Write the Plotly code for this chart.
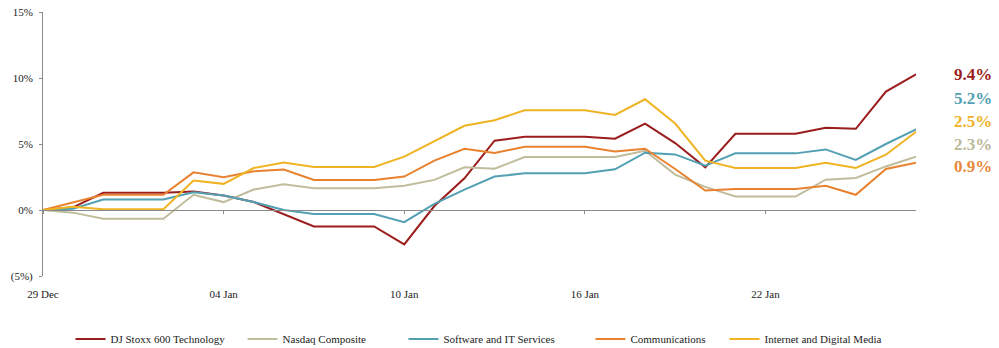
import plotly.graph_objects as go
import pandas as pd

dates = pd.date_range("2014-12-29", "2015-01-27", freq="D")

dj_stoxx = [0, 0.2, 1.3, 1.3, 1.3, 1.4, 1.1, 0.6, -0.35, -1.25, -1.25, -1.25, -2.6, 0.3, 2.4,
            5.25, 5.55, 5.55, 5.55, 5.4, 6.55, 5.07, 3.23, 5.77, 5.77, 5.77, 6.23, 6.15, 8.97, 10.28]
nasdaq = [0, -0.2, -0.67, -0.67, -0.67, 1.15, 0.6, 1.55, 1.95, 1.65, 1.65, 1.65, 1.83, 2.28, 3.23,
          3.13, 4.01, 4.01, 4.01, 4.01, 4.49, 2.68, 1.75, 1.02, 1.02, 1.02, 2.3, 2.43, 3.3, 4.04]
software = [0, 0.1, 0.8, 0.8, 0.8, 1.35, 1.1, 0.6, 0.0, -0.3, -0.3, -0.3, -0.92, 0.47, 1.55,
            2.53, 2.78, 2.78, 2.78, 3.08, 4.34, 4.21, 3.36, 4.29, 4.29, 4.29, 4.59, 3.79, 5.0, 6.1]
communications = [0, 0.6, 1.15, 1.15, 1.15, 2.85, 2.48, 2.93, 3.06, 2.28, 2.28, 2.28, 2.53, 3.74, 4.64,
                  4.32, 4.79, 4.79, 4.79, 4.44, 4.64, 3.11, 1.47, 1.6, 1.6, 1.6, 1.83, 1.15, 3.11, 3.58]
internet = [0, 0.25, 0.05, 0.05, 0.05, 2.23, 1.98, 3.18, 3.6, 3.26, 3.26, 3.26, 4.04, 5.2, 6.38,
            6.8, 7.56, 7.56, 7.56, 7.2, 8.39, 6.55, 3.74, 3.18, 3.18, 3.18, 3.58, 3.18, 4.19, 5.92]

series_names = ["DJ Stoxx 600 Technology", "Nasdaq Composite", "Software and IT Services",
                "Communications", "Internet and Digital Media"]
series_values = [dj_stoxx, nasdaq, software, communications, internet]
colors = ["#9B1C1C", "#BFBD9C", "#53A0B3", "#E8822F", "#F0B323"]

end_labels = ["9.4%", "5.2%", "2.5%", "2.3%", "0.9%"]
end_label_colors = ["#9B1C1C", "#53A0B3", "#EDB223", "#B9B898", "#E8883A"]

xtick_vals = pd.to_datetime(["2014-12-29", "2015-01-04", "2015-01-10", "2015-01-16", "2015-01-22"])
xtick_text = ["29 Dec", "04 Jan", "10 Jan", "16 Jan", "22 Jan"]
ytick_vals = [-5, 0, 5, 10, 15]
ytick_text = ["(5%)", "0%", "5%", "10%", "15%"]

FONT = "Liberation Serif, Times New Roman, serif"

# legend positions (paper x) for each entry
legend_x = [0.0315, 0.2286, 0.4129, 0.6271, 0.7806]

fig = go.Figure()
legend_ids = ["legend", "legend2", "legend3", "legend4", "legend5"]
for name, vals, col, lid in zip(series_names, series_values, colors, legend_ids):
    fig.add_trace(go.Scatter(x=dates, y=vals, mode="lines", name=name, legend=lid,
                             line=dict(color=col, width=2)))

# invisible trace to carry the zero-line axis
fig.add_trace(go.Scatter(x=dates, y=[None]*len(dates), xaxis="x2", showlegend=False,
                         hoverinfo="skip"))

xr = [dates[0], dates[-1]]
layout = dict(
    width=999, height=348,
    margin=dict(l=43, r=83, t=12, b=72, autoexpand=False),
    paper_bgcolor="white", plot_bgcolor="white",
    font=dict(family=FONT, size=11, color="#222222"),
    xaxis=dict(range=xr, tickvals=xtick_vals, ticktext=xtick_text, showgrid=False,
               showline=False, zeroline=False, ticks="", tickfont=dict(size=11),
               ticklabelstandoff=10, automargin=False),
    xaxis2=dict(range=xr, overlaying="x", anchor="free", position=0.25, side="bottom",
                tickvals=xtick_vals, showticklabels=False, showgrid=False, showline=True,
                linecolor="#8a8a8a", linewidth=1, ticks="outside", ticklen=3,
                tickcolor="#8a8a8a", zeroline=False),
    yaxis=dict(range=[-5, 15], tickvals=ytick_vals, ticktext=ytick_text, showgrid=False,
               zeroline=False, showline=True, linecolor="#8a8a8a", linewidth=1,
               ticks="outside", ticklen=3, tickcolor="#8a8a8a", tickfont=dict(size=11),
               ticklabelstandoff=4, automargin=False),
    showlegend=True,
)
for lid, lx in zip(legend_ids, legend_x):
    layout[lid] = dict(orientation="h", x=lx, xanchor="left", y=-0.2386, yanchor="middle",
                       font=dict(size=11, family=FONT, color="#222222"),
                       bgcolor="rgba(0,0,0,0)")
fig.update_layout(**layout)

label_y = [0.765, 0.674, 0.587, 0.5, 0.413]
for txt, col, yy in zip(end_labels, end_label_colors, label_y):
    fig.add_annotation(text="<b>%s</b>" % txt, x=1.065, y=yy, xref="paper", yref="paper",
                       xanchor="center", yanchor="middle", showarrow=False,
                       font=dict(family=FONT, size=17, color=col))

fig.write_html("out.html")
